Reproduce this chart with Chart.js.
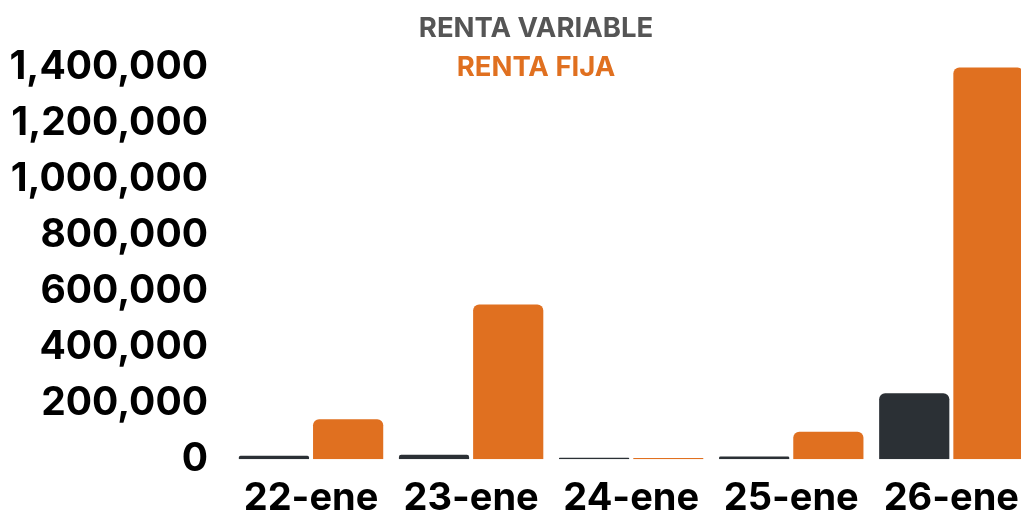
<!DOCTYPE html>
<html>
<head>
<meta charset="utf-8">
<script src="https://cdn.jsdelivr.net/npm/chart.js@4"></script>
<style>
  body { margin: 0; overflow: hidden; background: #fff; }
</style>
</head>
<body>
<canvas id="rentaChart" width="1037" height="519"></canvas>
<script>
// datos
const categorias = ['22-ene', '23-ene', '24-ene', '25-ene', '26-ene'];
const rentaVariable = [12000, 16000, 5000, 10000, 235000];
const rentaFija = [143000, 552000, 4000, 98000, 1398000];
const ejeMax = 1400000;
const ejePaso = 200000;

const colorVariable = '#2b3035';
const colorFija = '#e07020';
const colorLeyenda = ['#555555', colorFija];

// leyenda centrada en dos líneas, como en el original
const leyendaApilada = {
    id: 'leyendaApilada',
    afterDraw(chart) {
        const ctx = chart.ctx;
        ctx.save();
        ctx.font = '700 27.5px Inter';
        ctx.textAlign = 'center';
        ctx.textBaseline = 'alphabetic';
        chart.data.datasets.forEach((ds, i) => {
            ctx.fillStyle = colorLeyenda[i];
            ctx.fillText(ds.label, 536, 37 + i * 39);
        });
        ctx.restore();
    }
};

new Chart(document.getElementById('rentaChart'), {
    type: 'bar',
    data: {
        labels: categorias,
        datasets: [
            {
                label: 'RENTA VARIABLE',
                data: rentaVariable,
                backgroundColor: colorVariable,
                borderRadius: 6,
                categoryPercentage: 0.927,
                barPercentage: 0.946
            },
            {
                label: 'RENTA FIJA',
                data: rentaFija,
                backgroundColor: colorFija,
                borderRadius: 6,
                categoryPercentage: 0.927,
                barPercentage: 0.946
            }
        ]
    },
    options: {
        responsive: false,
        animation: false,
        layout: { padding: { top: 67, right: 0, bottom: -18, left: 0 } },
        plugins: {
            legend: { display: false },
            tooltip: { enabled: false }
        },
        scales: {
            x: {
                grid: { display: false, drawTicks: false },
                border: { display: false },
                ticks: {
                    color: '#000',
                    padding: 18,
                    font: { family: 'Inter', size: 38, weight: '700', lineHeight: 1.1 }
                }
            },
            y: {
                min: 0,
                max: ejeMax,
                grid: { display: false, drawTicks: false },
                border: { display: false },
                afterFit: (scale) => { scale.width = 231; },
                ticks: {
                    stepSize: ejePaso,
                    color: '#000',
                    padding: 23,
                    font: { family: 'Inter', size: 39, weight: '700' },
                    callback: (v) => v.toLocaleString('en-US')
                }
            }
        }
    },
    plugins: [leyendaApilada]
});
</script>
</body>
</html>
